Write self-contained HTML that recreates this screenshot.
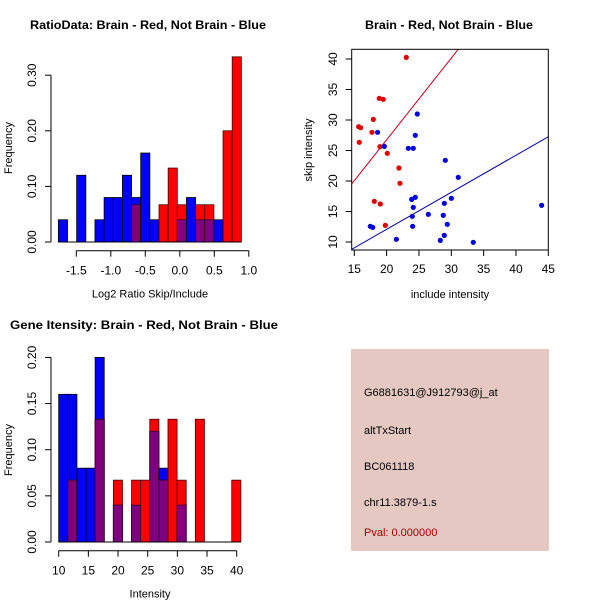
<!DOCTYPE html>
<html><head><meta charset="utf-8"><style>
html,body{margin:0;padding:0;background:#fff;}
svg{display:block;font-family:"Liberation Sans",sans-serif;}
</style></head><body>
<svg id="s" width="600" height="600" viewBox="0 0 600 600" xmlns="http://www.w3.org/2000/svg">
<rect width="600" height="600" fill="#fff"/>
<g id="tl"></g>
<g id="tr"></g>
<g id="bl"></g>
<g>
<rect x="351" y="349" width="198" height="202" fill="#e5c8c2"/>
<text x="364" y="396" font-size="11" fill="#000">G6881631@J912793@j_at</text>
<text x="364" y="434" font-size="11" fill="#000">altTxStart</text>
<text x="364" y="470" font-size="11" fill="#000">BC061118</text>
<text x="364" y="506" font-size="11" fill="#000">chr11.3879-1.s</text>
<text x="364" y="536" font-size="11" fill="#a00000">Pval: 0.000000</text>
</g>
</svg>
<script>
const NS='http://www.w3.org/2000/svg';
function mk(parent,tag,attrs,txt){const e=document.createElementNS(NS,tag);for(const k in attrs)e.setAttribute(k,attrs[k]);if(txt!==undefined)e.textContent=txt;parent.appendChild(e);return e;}

// ---- Ratio histogram data ----
const ratioBinStart=-1.76, ratioBinWidth=0.1326;
const ratioBlue=[0.04,0,0.12,0,0.04,0.08,0.08,0.12,0.08,0.16,0.04,0,0,0.04,0.08,0.04,0.04,0.04,0,0];
const ratioRed=[0,0,0,0,0,0,0,0,0.067,0,0,0.067,0.133,0.067,0,0.067,0.067,0,0.2,0.333];
const ratioXTicks=[-1.5,-1.0,-0.5,0.0,0.5,1.0];
const ratioXTickLabels=["-1.5","-1.0","-0.5","0.0","0.5","1.0"];
const ratioYTicks=[0,0.1,0.2,0.3];
const ratioYTickLabels=["0.00","0.10","0.20","0.30"];

// ---- Intensity histogram data ----
const intBinStart=10.0, intBinWidth=1.535;
const intBlue=[0.16,0.16,0.08,0.08,0.2,0,0.04,0,0.04,0,0.12,0.08,0,0.04,0,0,0,0,0,0];
const intRed=[0,0.067,0,0,0.133,0,0.067,0,0.067,0.067,0.133,0.067,0.133,0.067,0,0.133,0,0,0,0.067];
const intXTicks=[10,15,20,25,30,35,40];
const intXTickLabels=["10","15","20","25","30","35","40"];
const intYTicks=[0,0.05,0.1,0.15,0.2];
const intYTickLabels=["0.00","0.05","0.10","0.15","0.20"];

// ---- Scatter data ----
const redInclude=[23.04,18.87,19.48,15.67,15.98,17.94,17.73,15.77,18.97,20.1,21.9,22.06,18.09,19.02,19.8];
const redSkip=[40.27,33.55,33.39,28.9,28.74,30.1,27.98,26.34,25.63,24.54,22.13,19.62,16.67,16.23,12.73];
const blueInclude=[18.6,19.64,24.74,24.43,23.35,24.12,29.07,31.08,23.87,24.43,24.12,23.97,24.02,26.44,28.92,30.0,28.76,29.38,28.92,28.3,33.4,21.5,17.47,17.84,43.97];
const blueSkip=[27.98,25.68,30.98,27.49,25.36,25.36,23.39,20.6,16.99,17.32,15.68,14.21,12.57,14.54,16.34,17.16,14.37,12.9,11.09,10.27,9.95,10.44,12.57,12.4,16.01];
const redFit=[-0.05,1.34];
const blueFit=[-0.06,0.607];
const scXTicks=[15,20,25,30,35,40,45];
const scYTicks=[10,15,20,25,30,35,40];

function hist(g,o){
  const sx=v=>o.px0+(v-o.x0)*o.kx, sy=v=>o.py0-v*o.ky;
  const n=o.blue.length;
  for(let i=0;i<n;i++){
    const a=o.binStart+i*o.binW, b=a+o.binW;
    const x=sx(a), w=sx(b)-sx(a);
    const bv=o.blue[i], rv=o.red[i], m=Math.min(bv,rv);
    if(bv>0){const r=mk(g,'rect',{x:x,y:sy(bv),width:w,height:sy(0)-sy(bv),fill:'#0000ff',stroke:'#000','stroke-width':0.8});
      
      }
    if(rv>0){const r=mk(g,'rect',{x:x,y:sy(rv),width:w,height:sy(0)-sy(rv),fill:'#ff0000',stroke:'#400000','stroke-width':0.8});
      
      
      if(bv>rv){r.setAttribute('fill','none');}}
    if(m>0){const r=mk(g,'rect',{x:x,y:sy(m),width:w,height:sy(0)-sy(m),fill:'#7f007f',stroke:'#300030','stroke-width':0.8});
      
      }
  }
  const base=mk(g,'line',{x1:sx(o.binStart),x2:sx(o.binStart+n*o.binW),y1:sy(0),y2:sy(0),stroke:'#000'});
  
  
  const xa=mk(g,'g',{});
  
  
  mk(xa,'line',{x1:sx(o.xt[0]),x2:sx(o.xt[o.xt.length-1]),y1:o.axY,y2:o.axY,stroke:'#000'});
  o.xt.forEach((t,i)=>{mk(xa,'line',{x1:sx(t),x2:sx(t),y1:o.axY,y2:o.axY+6,stroke:'#000'});
    const tx=mk(xa,'text',{x:sx(t),y:o.axY+24,'font-size':12,'text-anchor':'middle'},o.xl[i]);
    
    });
  const ya=mk(g,'g',{});
  
  
  mk(ya,'line',{x1:51,x2:51,y1:sy(o.yt[0]),y2:sy(o.yt[o.yt.length-1]),stroke:'#000'});
  o.yt.forEach((t,i)=>{mk(ya,'line',{x1:45,x2:51,y1:sy(t),y2:sy(t),stroke:'#000'});
    const tx=mk(ya,'text',{x:0,y:0,'font-size':12,'text-anchor':'middle',transform:`translate(36,${sy(t)}) rotate(-90)`},o.yl[i]);
    
    });
  const yl=mk(g,'text',{x:0,y:0,'font-size':11,'text-anchor':'middle',transform:`translate(12,${o.yTitleY}) rotate(-90)`},'Frequency');
  
  
  const xl=mk(g,'text',{x:o.xTitleX,y:o.axY+47,'font-size':11,'text-anchor':'middle'},o.xTitle);
  
  
  const ti=mk(g,'text',{x:o.titleX,y:o.titleY,'font-size':12,'font-weight':'bold','text-anchor':'middle',textLength:o.titleLen,lengthAdjust:'spacingAndGlyphs'},o.title);
  
  
}

hist(document.getElementById('tl'),{px0:76.3,x0:-1.5,kx:69,py0:242,ky:556,binStart:ratioBinStart,binW:ratioBinWidth,
  blue:ratioBlue,red:ratioRed,xt:ratioXTicks,xl:ratioXTickLabels,yt:ratioYTicks,yl:ratioYTickLabels,axY:250.7,
  yTitleY:148,xTitleX:150,xTitle:'Log2 Ratio Skip/Include',titleX:148,titleY:29,titleLen:236,title:'RatioData: Brain - Red, Not Brain - Blue'});
hist(document.getElementById('bl'),{px0:58.7,x0:10,kx:5.933,py0:542,ky:923,binStart:intBinStart,binW:intBinWidth,
  blue:intBlue,red:intRed,xt:intXTicks,xl:intXTickLabels,yt:intYTicks,yl:intYTickLabels,axY:550.7,
  yTitleY:450,xTitleX:150,xTitle:'Intensity',titleX:144,titleY:329,titleLen:268,title:'Gene Itensity: Brain - Red, Not Brain - Blue'});

(function(){
  const g=document.getElementById('tr');
  const L=351.7,R=548.3,T=49.3,B=250;
  const sx=v=>354.3+(v-15)*6.467, sy=v=>242-(v-10)*6.1;
  const ix=x=>15+(x-354.3)/6.467;
  const cp=mk(g,'clipPath',{id:'clp'});mk(cp,'rect',{x:L,y:T,width:R-L,height:B-T});
  [[redFit,'#c00020','red-fit-line'],[blueFit,'#0000a0','blue-fit-line']].forEach(([f,c,n])=>{
    const x1=ix(L),x2=ix(R);
    const l=mk(g,'line',{x1:L,x2:R,y1:sy(f[0]+f[1]*x1),y2:sy(f[0]+f[1]*x2),stroke:c,'stroke-width':1,'clip-path':'url(#clp)'});
    
    
  });
  redInclude.forEach((x,i)=>{const c=mk(g,'circle',{cx:sx(x),cy:sy(redSkip[i]),r:2.6,fill:'#e00000'});
    
    });
  blueInclude.forEach((x,i)=>{const c=mk(g,'circle',{cx:sx(x),cy:sy(blueSkip[i]),r:2.6,fill:'#0000e0'});
    
    });
  const box=mk(g,'rect',{x:L,y:T,width:R-L,height:B-T,fill:'none',stroke:'#000'});
  
  
  scXTicks.forEach(t=>{mk(g,'line',{x1:sx(t),x2:sx(t),y1:B,y2:B+6,stroke:'#000'});
    const tx=mk(g,'text',{x:sx(t),y:B+23,'font-size':12,'text-anchor':'middle'},String(t));
    
    });
  scYTicks.forEach(t=>{mk(g,'line',{x1:L-6,x2:L,y1:sy(t),y2:sy(t),stroke:'#000'});
    const tx=mk(g,'text',{x:0,y:0,'font-size':12,'text-anchor':'middle',transform:`translate(337,${sy(t)}) rotate(-90)`},String(t));
    
    });
  const xl=mk(g,'text',{x:450,y:298,'font-size':11,'text-anchor':'middle'},'include intensity');
  
  
  const yl=mk(g,'text',{x:0,y:0,'font-size':11,'text-anchor':'middle',transform:'translate(312,150) rotate(-90)'},'skip intensity');
  
  
  const ti=mk(g,'text',{x:449,y:29,'font-size':12,'font-weight':'bold','text-anchor':'middle',textLength:168,lengthAdjust:'spacingAndGlyphs'},'Brain - Red, Not Brain - Blue');
  
  
})();
</script>
</body></html>
